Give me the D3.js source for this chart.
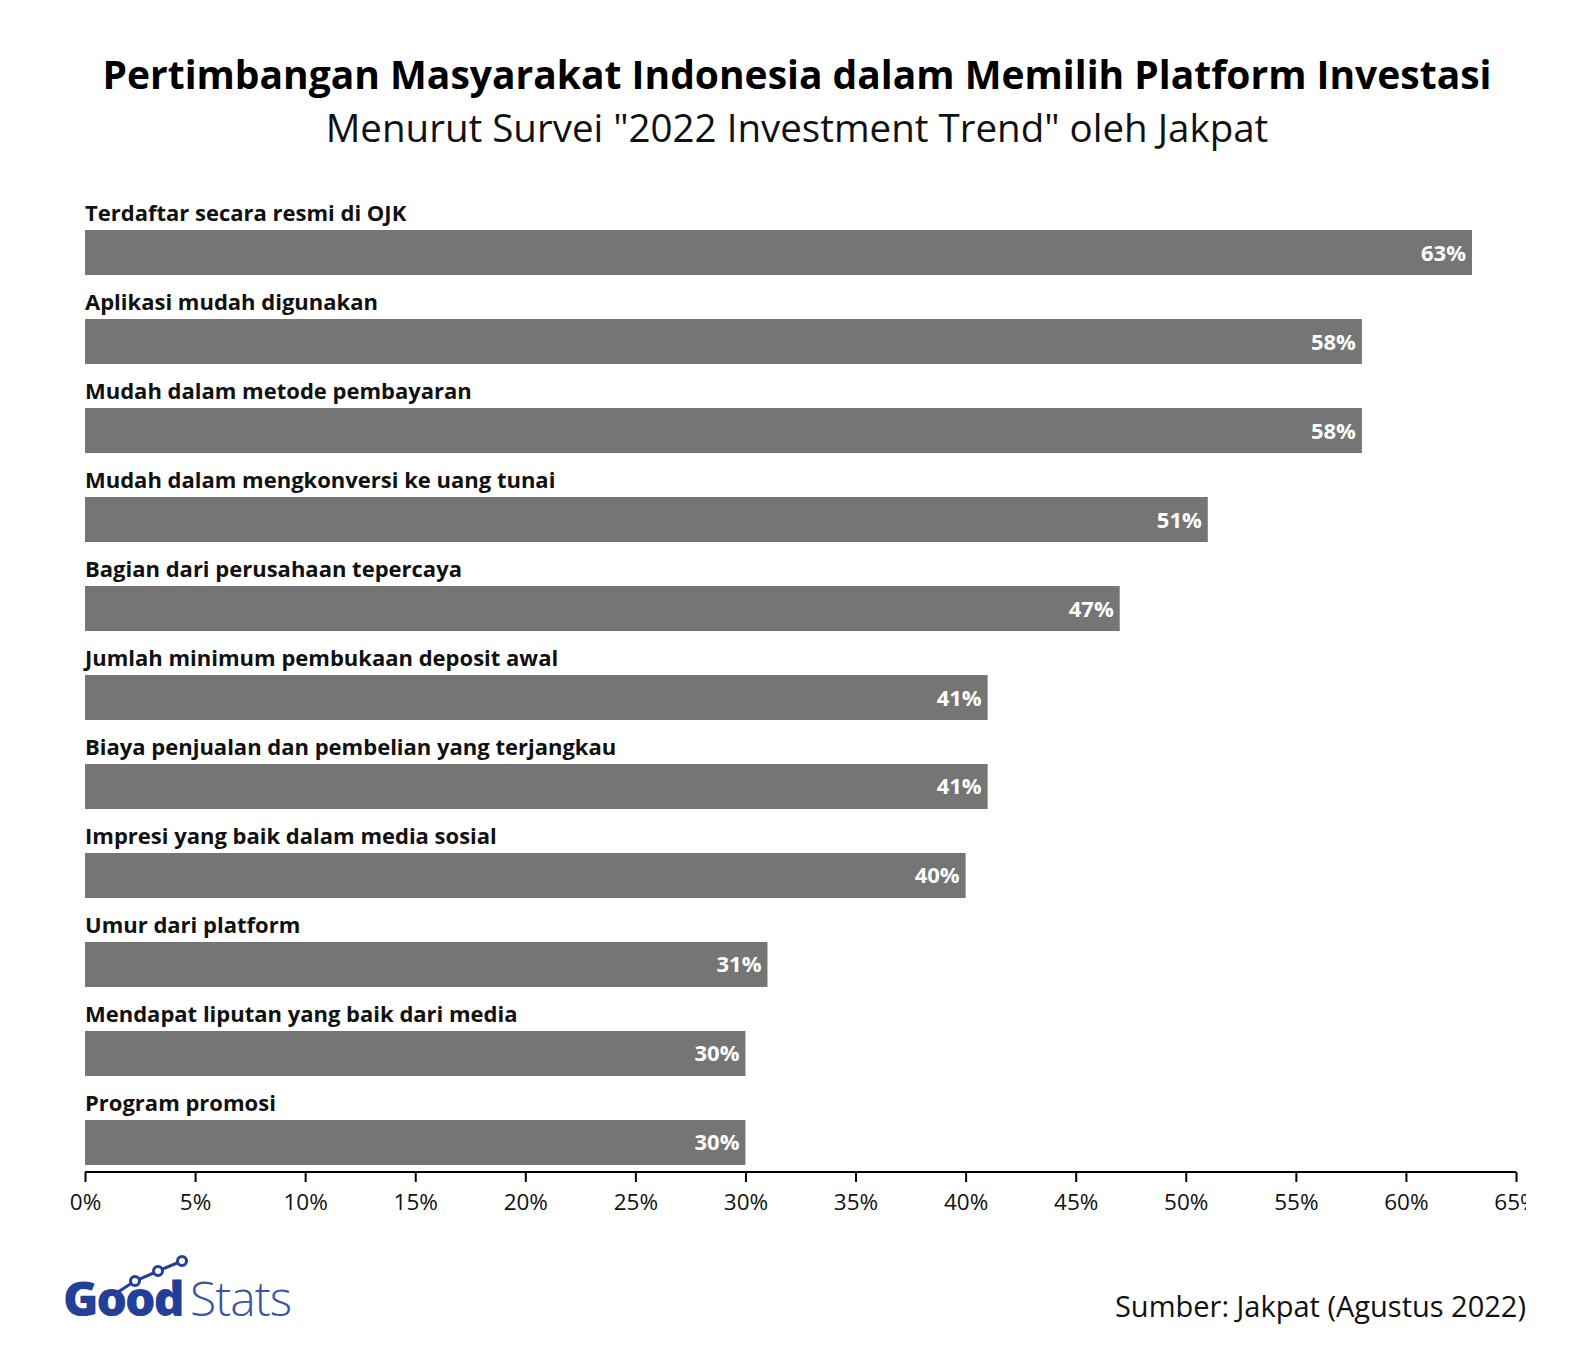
<!DOCTYPE html>
<html><head><meta charset="utf-8">
<script src="https://cdn.jsdelivr.net/npm/d3@7"></script>
<style>body{margin:0;background:#fff;font-family:"Open Sans",sans-serif}</style>
</head><body>
<svg id="chart" width="1592" height="1346"></svg>
<script>
var categories = ["Terdaftar secara resmi di OJK","Aplikasi mudah digunakan","Mudah dalam metode pembayaran","Mudah dalam mengkonversi ke uang tunai","Bagian dari perusahaan tepercaya","Jumlah minimum pembukaan deposit awal","Biaya penjualan dan pembelian yang terjangkau","Impresi yang baik dalam media sosial","Umur dari platform","Mendapat liputan yang baik dari media","Program promosi"];
var values = [63,58,58,51,47,41,41,40,31,30,30];
var ticks = [0,5,10,15,20,25,30,35,40,45,50,55,60,65];

var svg = d3.select("#chart");
var font = "'Open Sans', sans-serif";
var x = d3.scaleLinear().domain([0,65]).range([85,1516]);
var y = d3.scaleBand().domain(categories).range([230,1165]).paddingInner(0.494).paddingOuter(0).align(0);

svg.append("text").attr("x",797).attr("y",89).attr("text-anchor","middle")
  .attr("font-family",font).attr("font-weight",700).attr("font-size",39)
  .text("Pertimbangan Masyarakat Indonesia dalam Memilih Platform Investasi");
svg.append("text").attr("x",797).attr("y",142).attr("text-anchor","middle")
  .attr("font-family",font).attr("font-weight",400).attr("font-size",38.5).attr("fill","#111")
  .text('Menurut Survei "2022 Investment Trend" oleh Jakpat');

var g = svg.selectAll("g.bar").data(categories).enter().append("g");
g.append("rect").attr("x",x(0)).attr("y",function(d){return y(d)})
  .attr("height",y.bandwidth()).attr("width",function(d,i){return x(values[i])-x(0)}).attr("fill","#757575");
g.append("text").attr("x",x(0)).attr("y",function(d){return y(d)-9})
  .attr("font-family",font).attr("font-weight",700).attr("font-size",22).attr("fill","#111")
  .text(function(d){return d});
g.append("text").attr("x",function(d,i){return x(values[i])-6})
  .attr("y",function(d){return y(d)+y.bandwidth()/2+8}).attr("text-anchor","end")
  .attr("font-family",font).attr("font-weight",700).attr("font-size",22).attr("fill","#fff")
  .text(function(d,i){return values[i]+"%"});

svg.append("clipPath").attr("id","clip").append("rect").attr("x",0).attr("y",0).attr("width",1526).attr("height",1346);
var ax = svg.append("g").attr("clip-path","url(#clip)").append("g").attr("transform","translate(0,1172)")
  .call(d3.axisBottom(x).tickValues(ticks).tickSize(10).tickFormat(function(d){return d+"%"}));
ax.select(".domain").attr("stroke-width",2).attr("d","M85,0H1516");
ax.selectAll(".tick line").attr("stroke-width",2);
ax.selectAll("text").attr("font-family",font).attr("font-size",22.5).attr("fill","#111").attr("dy","1.1em");

// logo
var logo = svg.append("g");
logo.append("text").attr("x",63).attr("y",1316).attr("font-family",font).attr("font-weight",800)
  .attr("font-size",48).attr("fill","#233f97").attr("letter-spacing",-2).text("Good");
logo.append("text").attr("x",190).attr("y",1316).attr("font-family",font).attr("font-weight",300)
  .attr("font-size",48).attr("fill","#3a54a5").attr("letter-spacing",-1).text("Stats");
var pts = [[135,1281],[158,1271],[182,1261]];
logo.append("path").attr("d",d3.line()([[118,1292]].concat(pts))).attr("stroke","#233f97").attr("stroke-width",3).attr("fill","none");
logo.selectAll("circle").data(pts).enter().append("circle").attr("cx",function(d){return d[0]}).attr("cy",function(d){return d[1]})
  .attr("r",4.5).attr("fill","#fff").attr("stroke","#233f97").attr("stroke-width",3);

svg.append("text").attr("x",1526).attr("y",1317).attr("text-anchor","end").attr("font-family",font)
  .attr("font-size",29).attr("fill","#111").text("Sumber: Jakpat (Agustus 2022)");
</script>
</body></html>
